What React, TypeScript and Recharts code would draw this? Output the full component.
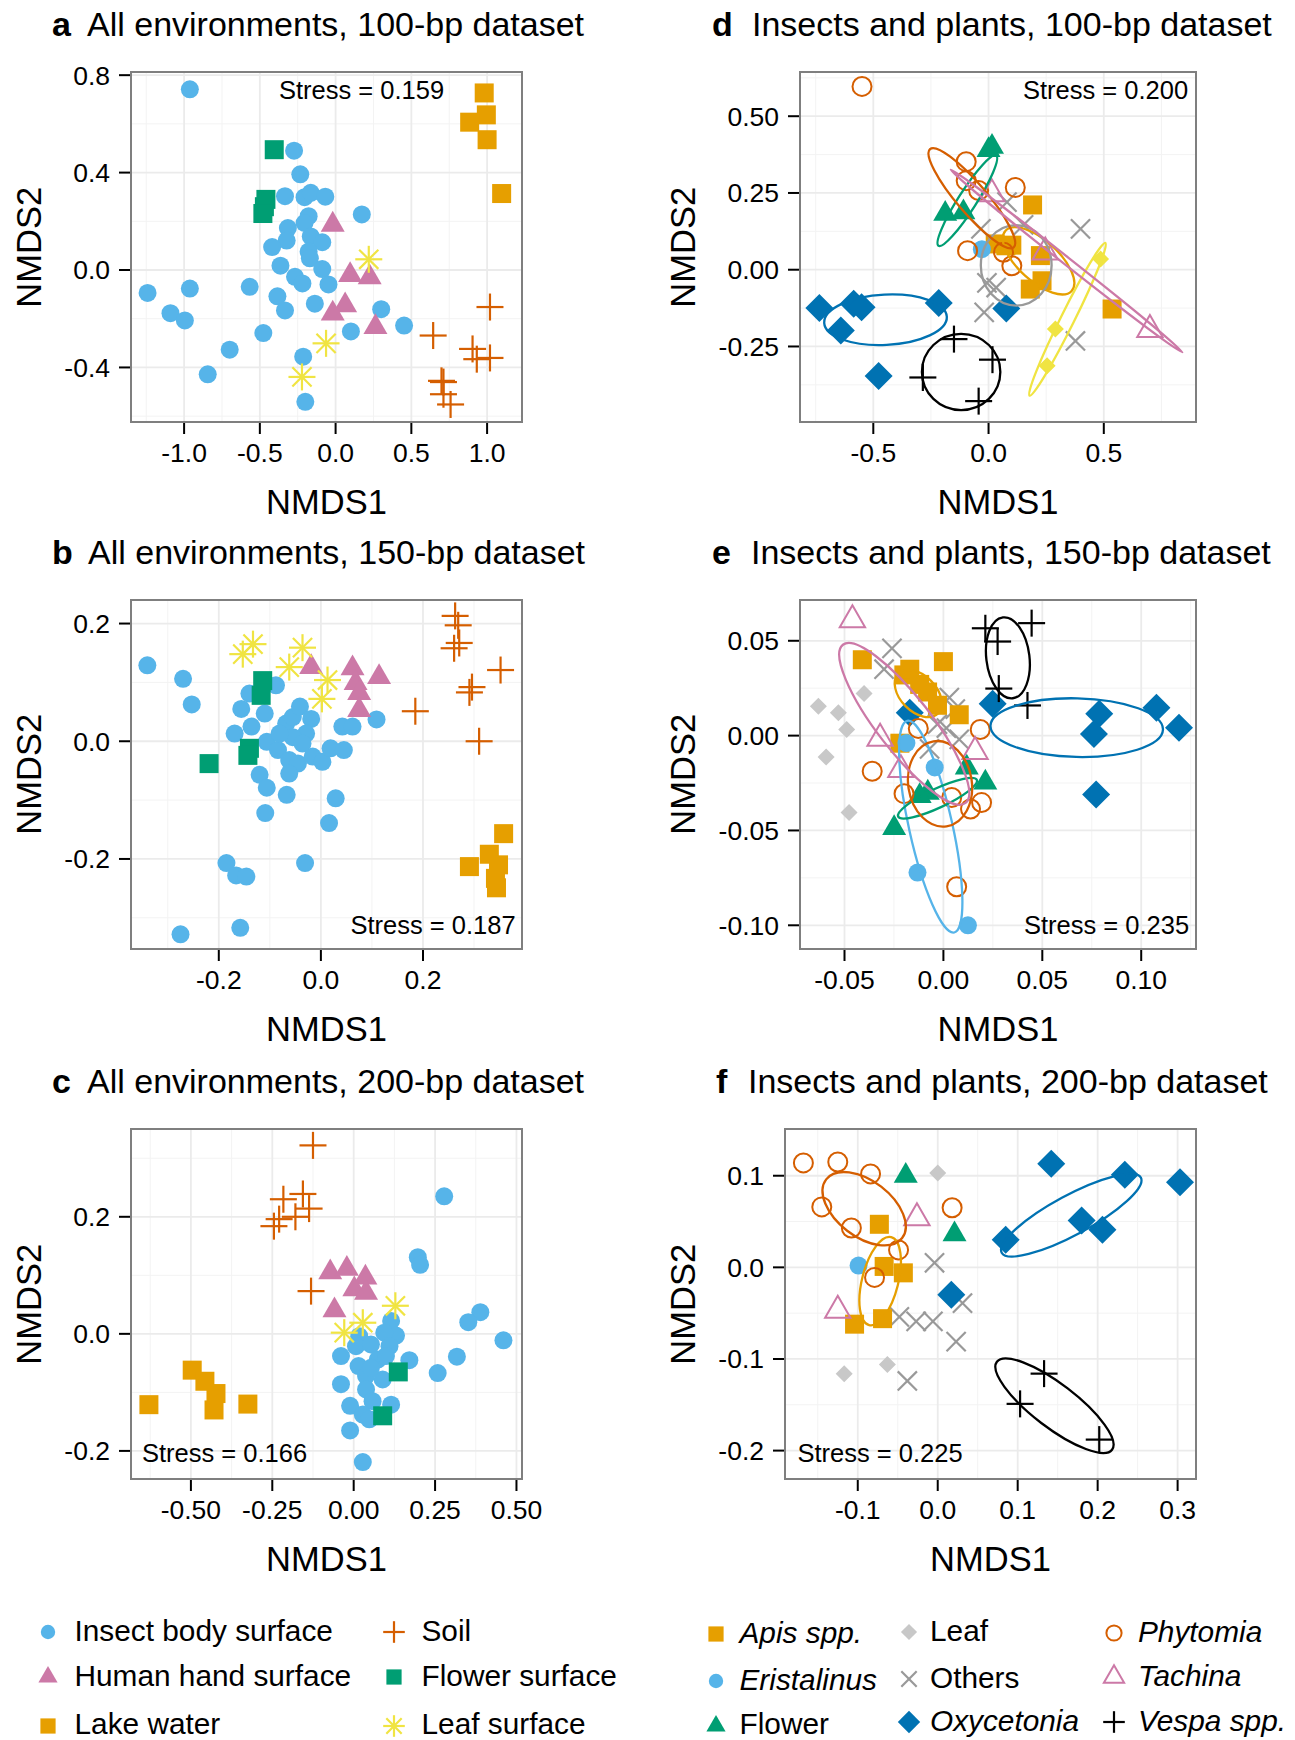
import React from "react";
import { ScatterChart, Scatter, XAxis, YAxis, CartesianGrid } from "recharts";

const FONT = '"Liberation Sans", Arial, Helvetica, sans-serif';

// okabe-ito style palette used by the figure
const SKY = "#56B4E9";
const PINK = "#CC79A7";
const ORANGE = "#E69F00";
const GREEN = "#009E73";
const YELLOW = "#F0E442";
const VERM = "#D55E00";
const BLUE = "#0072B2";
const GREY = "#999999";
const LIGHTGREY = "#C8C8C8";
const BLACK = "#000000";

type Pt = [number, number];
// ellipse: centre x, centre y, semi-major axis (x, y in data units), minor/major ratio
type Ell = [number, number, number, number, number];

// ---------- a: all environments, 100 bp ----------
const aInsect: Pt[] = [[-0.962,0.742],[-0.274,0.49],[-0.233,0.393],[-0.334,0.303],[-0.205,0.299],[-0.164,0.317],[-0.068,0.301],[0.173,0.228],[-0.178,0.221],[-0.205,0.193],[-0.315,0.172],[-0.323,0.121],[-0.419,0.094],[-0.164,0.138],[-0.088,0.114],[-0.178,0.076],[-0.17,0.048],[-0.364,0.018],[-0.088,0.004],[-0.268,-0.028],[-0.219,-0.055],[-0.047,-0.059],[-0.567,-0.069],[-0.962,-0.076],[-1.241,-0.094],[-0.384,-0.108],[-0.334,-0.166],[-0.137,-0.138],[-1.09,-0.177],[-0.995,-0.207],[0.301,-0.161],[0.452,-0.228],[0.101,-0.252],[-0.477,-0.259],[-0.699,-0.327],[-0.214,-0.356],[-0.844,-0.428],[-0.2,-0.541]];
const aHand: Pt[] = [[-0.019,0.186],[0.096,-0.021],[0.225,-0.03],[0.063,-0.145],[-0.019,-0.179],[0.263,-0.234]];
const aLake: Pt[] = [[0.981,0.727],[0.995,0.637],[0.885,0.607],[1.0,0.535],[1.096,0.314]];
const aSoil: Pt[] = [[1.019,-0.152],[0.644,-0.269],[0.904,-0.324],[0.932,-0.366],[1.019,-0.361],[0.699,-0.455],[0.712,-0.46],[0.712,-0.51],[0.759,-0.552]];
const aFlower: Pt[] = [[-0.405,0.494],[-0.46,0.29],[-0.47,0.26],[-0.48,0.232]];
const aLeaf: Pt[] = [[0.219,0.044],[-0.063,-0.301],[-0.222,-0.439]];

// ---------- b: all environments, 150 bp ----------
const bInsect: Pt[] = [[-0.34,0.129],[-0.27,0.106],[-0.253,0.0625],[-0.156,0.055],[-0.14,0.081],[-0.088,0.095],[-0.11,0.047],[-0.169,0.013],[-0.136,0.025],[-0.106,-0.001],[-0.084,-0.015],[-0.068,0.03],[-0.055,0.041],[-0.041,0.059],[-0.019,0.038],[-0.029,0.013],[-0.055,0.007],[-0.081,0.013],[-0.036,-0.004],[-0.062,-0.032],[-0.045,-0.038],[-0.016,-0.026],[0.003,-0.035],[0.019,-0.012],[0.045,-0.015],[0.042,0.025],[0.062,0.025],[0.109,0.037],[-0.12,-0.057],[-0.106,-0.079],[-0.067,-0.091],[-0.109,-0.122],[0.029,-0.097],[0.016,-0.139],[-0.062,-0.055],[-0.185,-0.207],[-0.166,-0.228],[-0.146,-0.23],[-0.031,-0.207],[-0.158,-0.317],[-0.275,-0.328]];
const bHand: Pt[] = [[-0.019,0.126],[0.062,0.124],[0.114,0.109],[0.068,0.099],[0.075,0.082],[0.075,0.053]];
const bLake: Pt[] = [[0.358,-0.157],[0.33,-0.192],[0.291,-0.213],[0.348,-0.21],[0.342,-0.233],[0.344,-0.249]];
const bSoil: Pt[] = [[0.263,0.213],[0.269,0.197],[0.271,0.167],[0.261,0.158],[0.352,0.121],[0.296,0.092],[0.291,0.083],[0.185,0.051],[0.31,0.0]];
const bFlower: Pt[] = [[-0.114,0.103],[-0.117,0.078],[-0.14,-0.012],[-0.143,-0.024],[-0.219,-0.038]];
const bLeaf: Pt[] = [[-0.153,0.148],[-0.133,0.165],[-0.062,0.126],[-0.036,0.159],[0.013,0.104],[0.002,0.072]];

// ---------- c: all environments, 200 bp ----------
const cInsect: Pt[] = [[0.278,0.235],[0.197,0.131],[0.204,0.118],[0.389,0.037],[0.352,0.02],[0.46,-0.011],[0.317,-0.039],[0.258,-0.067],[0.171,-0.045],[0.115,0.022],[0.13,-0.003],[0.094,0.002],[0.017,-0.004],[-0.039,-0.038],[0.007,-0.021],[0.053,-0.018],[0.11,-0.021],[0.015,-0.055],[0.038,-0.072],[0.089,-0.078],[-0.039,-0.086],[0.038,-0.095],[0.058,-0.115],[0.115,-0.121],[-0.011,-0.123],[0.028,-0.138],[0.048,-0.146],[-0.011,-0.165],[0.074,-0.044],[0.099,-0.038],[0.053,-0.058],[0.028,-0.219]];
const cHand: Pt[] = [[-0.072,0.105],[-0.021,0.111],[0.036,0.096],[0.002,0.076],[0.038,0.07],[-0.059,0.04]];
const cLake: Pt[] = [[-0.629,-0.121],[-0.496,-0.062],[-0.457,-0.081],[-0.423,-0.102],[-0.429,-0.13],[-0.325,-0.12]];
const cSoil: Pt[] = [[-0.125,0.322],[-0.156,0.239],[-0.216,0.23],[-0.137,0.214],[-0.179,0.2],[-0.229,0.196],[-0.245,0.184],[-0.131,0.073]];
const cFlower: Pt[] = [[0.137,-0.065],[0.089,-0.14]];
const cLeaf: Pt[] = [[0.128,0.048],[0.028,0.019],[-0.029,0.002]];

// ---------- d: insects and plants, 100 bp ----------
const dApis: Pt[] = [[0.191,0.211],[0.029,0.084],[0.075,0.078],[0.101,0.08],[0.225,0.046],[0.232,-0.036],[0.181,-0.063],[0.536,-0.128]];
const dEris: Pt[] = [[-0.029,0.067]];
const dFlower: Pt[] = [[0.0,0.39],[0.015,0.4],[-0.188,0.182],[-0.109,0.187]];
const dLeaf: Pt[] = [[0.486,0.035],[0.29,-0.193],[0.254,-0.313]];
const dOthers: Pt[] = [[0.08,0.22],[-0.033,0.133],[0.152,0.146],[0.399,0.133],[-0.007,-0.043],[0.033,-0.058],[-0.019,-0.139],[0.377,-0.232]];
const dOxy: Pt[] = [[-0.734,-0.125],[-0.585,-0.111],[-0.551,-0.122],[-0.216,-0.108],[-0.641,-0.198],[-0.477,-0.346],[0.077,-0.126]];
const dPhyto: Pt[] = [[-0.549,0.597],[-0.097,0.352],[-0.097,0.29],[-0.043,0.258],[0.116,0.268],[-0.091,0.062],[0.065,0.057],[0.101,0.013]];
const dTach: Pt[] = [[0.014,0.247],[0.246,0.057],[0.7,-0.195]];
const dVespa: Pt[] = [[-0.15,-0.226],[0.017,-0.293],[-0.285,-0.351],[-0.043,-0.428]];
const dPhytoEll: Ell = [-0.0725, 0.233, 0.1815, -0.16, 0.23];
const dFlowerEll: Ell = [-0.092, 0.225, 0.125, 0.147, 0.17];
const dApisEll: Ell = [0.217, 0.029, 0.1435, -0.098, 0.45];
const dOthersEll: Ell = [0.12, 0.014, 0, 0.131, 0.88];
const dLeafEll: Ell = [0.3425, -0.1615, 0.1645, 0.2485, 0.08];
const dTachEll: Ell = [0.3385, 0.0285, 0.5025, -0.2975, 0.025];
const dOxyEll: Ell = [-0.447, -0.163, 0.266, 0.01, 0.41];
const dVespaEll: Ell = [-0.119, -0.333, 0, 0.124, 1.03];

// ---------- e: insects and plants, 150 bp ----------
const eApis: Pt[] = [[-0.041,0.04],[0.0,0.039],[-0.02,0.032],[-0.017,0.035],[-0.012,0.027],[-0.008,0.023],[-0.003,0.016],[0.008,0.011],[-0.022,-0.004]];
const eEris: Pt[] = [[-0.0187,-0.0039],[-0.0044,-0.0168],[-0.0131,-0.0722],[0.0124,-0.1]];
const eFlower: Pt[] = [[0.0118,-0.0168],[0.0212,-0.0248],[-0.0079,-0.0301],[-0.012,-0.0319],[-0.0249,-0.0487]];
const eLeaf: Pt[] = [[-0.0632,0.0155],[-0.0531,0.012],[-0.0489,0.0032],[-0.0401,0.0222],[-0.0593,-0.0113],[-0.0477,-0.0406]];
const eOthers: Pt[] = [[-0.026,0.046],[-0.03,0.035],[0.003,0.02],[0.0015,0.004],[-0.003,0.006],[0.008,-0.002],[-0.007,-0.007],[0.006,0.014]];
const eOxy: Pt[] = [[-0.017,0.012],[0.0249,0.0168],[0.0788,0.0115],[0.0761,0.0009],[0.1077,0.0147],[0.1191,0.0041],[0.0772,-0.031]];
const ePhyto: Pt[] = [[-0.0127,0.0038],[-0.036,-0.0188],[-0.0199,-0.0306],[0.0042,-0.0326],[0.0186,0.0032],[0.0193,-0.0353],[0.0137,-0.0387],[0.0067,-0.0797]];
const eTach: Pt[] = [[-0.046,0.061],[-0.032,-0.0015],[-0.0215,-0.018],[0.016,-0.0085]];
const eVespa: Pt[] = [[0.0212,0.0566],[0.0274,0.0496],[0.0446,0.0593],[0.028,0.0248],[0.0425,0.0159]];
const eTachEll: Ell = [-0.0198, 0.0062, 0.031, -0.0417, 0.27];
const eApisEll: Ell = [-0.0127, 0.0222, 0.01, -0.0105, 0.64];
const eErisEll: Ell = [-0.0064, -0.048, -0.0119, 0.0558, 0.2];
const eFlowerEll: Ell = [-0.003, -0.033, 0.0199, 0.0097, 0.22];
const ePhytoEll: Ell = [-0.0017, -0.0254, -0.0033, 0.0224, 0.74];
const eOxyEll: Ell = [0.0674, 0.0042, 0.0436, -0.001, 0.34];
const eVespaEll: Ell = [0.0326, 0.041, -0.0025, 0.0213, 0.53];

// ---------- f: insects and plants, 200 bp ----------
const fApis: Pt[] = [[-0.073,0.047],[-0.067,0.001],[-0.043,-0.006],[-0.069,-0.056],[-0.104,-0.062]];
const fEris: Pt[] = [[-0.099,0.002]];
const fFlower: Pt[] = [[-0.04,0.1],[0.021,0.036]];
const fLeaf: Pt[] = [[0.0,0.103],[-0.117,-0.116],[-0.063,-0.106]];
const fOthers: Pt[] = [[-0.004,0.005],[0.031,-0.039],[-0.048,-0.054],[-0.027,-0.059],[-0.006,-0.059],[0.023,-0.081],[-0.038,-0.124]];
const fOxy: Pt[] = [[0.017,-0.03],[0.085,0.03],[0.142,0.113],[0.234,0.101],[0.18,0.051],[0.206,0.041],[0.303,0.093]];
const fPhyto: Pt[] = [[-0.168,0.114],[-0.125,0.115],[-0.084,0.102],[-0.145,0.066],[-0.108,0.043],[0.018,0.065],[-0.049,0.019],[-0.079,-0.011]];
const fTach: Pt[] = [[-0.026,0.054],[-0.125,-0.047]];
const fVespa: Pt[] = [[0.133,-0.116],[0.103,-0.149],[0.202,-0.188]];
const fPhytoEll: Ell = [-0.092, 0.064, 0.0475, -0.032, 0.58];
const fApisEll: Ell = [-0.072, -0.015, 0.0138, 0.048, 0.4];
const fOxyEll: Ell = [0.167, 0.057, 0.087, 0.041, 0.25];
const fVespaEll: Ell = [0.146, -0.151, 0.072, -0.048, 0.3];

// ---------- axes ----------
const aXTicks = [-1, -0.5, 0, 0.5, 1];
const aXLabels = ["-1.0", "-0.5", "0.0", "0.5", "1.0"];
const aYTicks = [-0.4, 0, 0.4, 0.8];
const aYLabels = ["-0.4", "0.0", "0.4", "0.8"];
const bXTicks = [-0.2, 0, 0.2];
const bXLabels = ["-0.2", "0.0", "0.2"];
const bYTicks = [-0.2, 0, 0.2];
const bYLabels = ["-0.2", "0.0", "0.2"];
const cXTicks = [-0.5, -0.25, 0, 0.25, 0.5];
const cXLabels = ["-0.50", "-0.25", "0.00", "0.25", "0.50"];
const cYTicks = [-0.2, 0, 0.2];
const cYLabels = ["-0.2", "0.0", "0.2"];
const dXTicks = [-0.5, 0, 0.5];
const dXLabels = ["-0.5", "0.0", "0.5"];
const dYTicks = [-0.25, 0, 0.25, 0.5];
const dYLabels = ["-0.25", "0.00", "0.25", "0.50"];
const eXTicks = [-0.05, 0, 0.05, 0.1];
const eXLabels = ["-0.05", "0.00", "0.05", "0.10"];
const eYTicks = [-0.1, -0.05, 0, 0.05];
const eYLabels = ["-0.10", "-0.05", "0.00", "0.05"];
const fXTicks = [-0.1, 0, 0.1, 0.2, 0.3];
const fXLabels = ["-0.1", "0.0", "0.1", "0.2", "0.3"];
const fYTicks = [-0.2, -0.1, 0, 0.1];
const fYLabels = ["-0.2", "-0.1", "0.0", "0.1"];

type MarkKind = "circle" | "square" | "triangle" | "plus" | "asterisk" | "diamond" | "smallDiamond" | "openCircle" | "openTriangle" | "cross";

function Mark({ kind, cx, cy, color, s = 1 }: { kind: MarkKind; cx: number; cy: number; color: string; s?: number }) {
  const sw = 2.2;
  switch (kind) {
    case "circle":
      return <circle cx={cx} cy={cy} r={9 * s} fill={color} />;
    case "square": {
      const h = 9.5 * s;
      return <rect x={cx - h} y={cy - h} width={2 * h} height={2 * h} fill={color} />;
    }
    case "triangle": {
      const k = 8.9 * s;
      return <polygon points={`${cx},${cy - 1.555 * k} ${cx + 1.347 * k},${cy + 0.778 * k} ${cx - 1.347 * k},${cy + 0.778 * k}`} fill={color} />;
    }
    case "openTriangle": {
      const k = 9.4 * s;
      return <polygon points={`${cx},${cy - 1.555 * k} ${cx + 1.347 * k},${cy + 0.778 * k} ${cx - 1.347 * k},${cy + 0.778 * k}`} fill="none" stroke={color} strokeWidth={2} />;
    }
    case "diamond": {
      const h = 14 * s;
      return <polygon points={`${cx},${cy - h} ${cx + h},${cy} ${cx},${cy + h} ${cx - h},${cy}`} fill={color} />;
    }
    case "smallDiamond": {
      const h = 8.5 * s;
      return <polygon points={`${cx},${cy - h} ${cx + h},${cy} ${cx},${cy + h} ${cx - h},${cy}`} fill={color} />;
    }
    case "openCircle":
      return <circle cx={cx} cy={cy} r={9.5 * s} fill="none" stroke={color} strokeWidth={2} />;
    case "plus": {
      const h = 13.5 * s;
      return (
        <g stroke={color} strokeWidth={sw}>
          <line x1={cx - h} y1={cy} x2={cx + h} y2={cy} />
          <line x1={cx} y1={cy - h} x2={cx} y2={cy + h} />
        </g>
      );
    }
    case "cross": {
      const h = 9.6 * s;
      return (
        <g stroke={color} strokeWidth={sw}>
          <line x1={cx - h} y1={cy - h} x2={cx + h} y2={cy + h} />
          <line x1={cx - h} y1={cy + h} x2={cx + h} y2={cy - h} />
        </g>
      );
    }
    case "asterisk": {
      const h = 13.5 * s;
      const d = 9.6 * s;
      return (
        <g stroke={color} strokeWidth={sw}>
          <line x1={cx - h} y1={cy} x2={cx + h} y2={cy} />
          <line x1={cx} y1={cy - h} x2={cx} y2={cy + h} />
          <line x1={cx - d} y1={cy - d} x2={cx + d} y2={cy + d} />
          <line x1={cx - d} y1={cy + d} x2={cx + d} y2={cy - d} />
        </g>
      );
    }
  }
  return null;
}

type Series = { pts: Pt[]; mark: MarkKind; color: string };
type EllSeries = { e: Ell; color: string };
type Box = { x: number; y: number; w: number; h: number };

type PanelProps = {
  box: Box;
  xDomain: [number, number];
  yDomain: [number, number];
  xTicks: number[];
  xLabels: string[];
  yTicks: number[];
  yLabels: string[];
  xMinor: number[];
  yMinor: number[];
  series: Series[];
  ellipses: EllSeries[];
};

const fmt = (ticks: number[], labels: string[]) => (v: number) => {
  const i = ticks.findIndex((t) => Math.abs(t - v) < 1e-9);
  return i >= 0 ? labels[i] : String(v);
};

function Panel({ box, xDomain, yDomain, xTicks, xLabels, yTicks, yLabels, xMinor, yMinor, series, ellipses }: PanelProps) {
  const YW = 130, MT = 30, MR = 45, XH = 70;
  const kx = box.w / (xDomain[1] - xDomain[0]);
  const ky = box.h / (yDomain[1] - yDomain[0]);
  const ellData = ellipses.map(({ e, color }) => ({ x: e[0], y: e[1], ax: e[2], ay: e[3], r: e[4], color }));
  const tickStyle = { fill: "#000", fontSize: 26.5, fontFamily: FONT };
  return (
    <div style={{ position: "absolute", left: box.x - YW, top: box.y - MT }}>
      <ScatterChart width={YW + box.w + MR} height={MT + box.h + XH} margin={{ top: MT, right: MR, bottom: 0, left: 0 }}>
        <CartesianGrid horizontalValues={yMinor} verticalValues={xMinor} stroke="#F3F3F3" strokeWidth={1} />
        <CartesianGrid horizontalValues={yTicks} verticalValues={xTicks} stroke="#EBEBEB" strokeWidth={1.8} />
        <XAxis
          type="number"
          dataKey="x"
          domain={xDomain}
          allowDataOverflow
          ticks={xTicks}
          interval={0}
          tickFormatter={fmt(xTicks, xLabels)}
          axisLine={false}
          tickSize={12}
          tickMargin={9}
          tickLine={{ stroke: "#000", strokeWidth: 2 }}
          tick={tickStyle}
          height={XH}
        />
        <YAxis
          type="number"
          dataKey="y"
          domain={yDomain}
          allowDataOverflow
          ticks={yTicks}
          interval={0}
          tickFormatter={fmt(yTicks, yLabels)}
          axisLine={false}
          tickSize={12}
          tickMargin={9}
          tickLine={{ stroke: "#000", strokeWidth: 2 }}
          tick={tickStyle}
          width={YW}
        />
        {series.map((s, i) => (
          <Scatter
            key={i}
            data={s.pts.map(([x, y]) => ({ x, y }))}
            isAnimationActive={false}
            shape={(p: any) => <Mark kind={s.mark} cx={p.cx} cy={p.cy} color={s.color} />}
          />
        ))}
        <Scatter
          data={ellData}
          isAnimationActive={false}
          shape={(p: any) => {
            const d = p.payload;
            const px = d.ax * kx;
            const py = -d.ay * ky;
            const a = Math.hypot(px, py);
            const ang = (Math.atan2(py, px) * 180) / Math.PI;
            return (
              <ellipse
                cx={p.cx}
                cy={p.cy}
                rx={a}
                ry={a * d.r}
                transform={`rotate(${ang} ${p.cx} ${p.cy})`}
                fill="none"
                stroke={d.color}
                strokeWidth={2.3}
              />
            );
          }}
        />
      </ScatterChart>
      <div
        style={{
          position: "absolute",
          left: YW - 1.25,
          top: MT - 1.25,
          width: box.w + 2.5,
          height: box.h + 2.5,
          border: "2.5px solid #7F7F7F",
          boxSizing: "border-box",
          pointerEvents: "none",
        }}
      />
    </div>
  );
}

// text placed by its baseline
function Txt({ x, y, size, children, center, bold, italic }: { x: number; y: number; size: number; children: React.ReactNode; center?: boolean; bold?: boolean; italic?: boolean }) {
  return (
    <div
      style={{
        position: "absolute",
        left: center ? x - 300 : x,
        width: center ? 600 : undefined,
        textAlign: center ? "center" : "left",
        top: y - 0.8465 * size,
        fontSize: size,
        lineHeight: `${size}px`,
        fontFamily: FONT,
        fontWeight: bold ? "bold" : "normal",
        fontStyle: italic ? "italic" : "normal",
        whiteSpace: "nowrap",
        color: "#000",
      }}
    >
      {children}
    </div>
  );
}

function VTxt({ x, cy, size, children }: { x: number; cy: number; size: number; children: React.ReactNode }) {
  // x = baseline position of text rotated to read upwards
  const cx = x - 0.3465 * size;
  return (
    <div
      style={{
        position: "absolute",
        left: cx - 150,
        top: cy - size / 2,
        width: 300,
        height: size,
        lineHeight: `${size}px`,
        textAlign: "center",
        fontSize: size,
        fontFamily: FONT,
        transform: "rotate(-90deg)",
        whiteSpace: "nowrap",
        color: "#000",
      }}
    >
      {children}
    </div>
  );
}

function LegendItem({ sx, tx, y, mark, color, label, italic, s = 0.8 }: { sx: number; tx: number; y: number; mark: MarkKind; color: string; label: string; italic?: boolean; s?: number }) {
  return (
    <>
      <svg style={{ position: "absolute", left: sx - 15, top: y - 9 - 15 }} width={30} height={30}>
        <Mark kind={mark} cx={15} cy={15} color={color} s={s} />
      </svg>
      <Txt x={tx} y={y} size={29.8} italic={italic}>
        {label}
      </Txt>
    </>
  );
}

const envSeries = (ins: Pt[], hand: Pt[], lake: Pt[], soil: Pt[], flower: Pt[], leaf: Pt[]): Series[] => [
  { pts: ins, mark: "circle", color: SKY },
  { pts: lake, mark: "square", color: ORANGE },
  { pts: soil, mark: "plus", color: VERM },
  { pts: flower, mark: "square", color: GREEN },
  { pts: hand, mark: "triangle", color: PINK },
  { pts: leaf, mark: "asterisk", color: YELLOW },
];

const boxA: Box = { x: 131, y: 72, w: 391, h: 350 };
const boxB: Box = { x: 131, y: 600, w: 391, h: 349 };
const boxC: Box = { x: 131, y: 1129, w: 391, h: 350 };
const boxD: Box = { x: 800, y: 72, w: 396, h: 350 };
const boxE: Box = { x: 800, y: 600, w: 396, h: 349 };
const boxF: Box = { x: 785, y: 1129, w: 411, h: 350 };

export default function App() {
  const titles = [
    { l: "a", t: "All environments, 100-bp dataset", lx: 52, tx: 87, y: 35.5 },
    { l: "b", t: "All environments, 150-bp dataset", lx: 52, tx: 88, y: 563.7 },
    { l: "c", t: "All environments, 200-bp dataset", lx: 52, tx: 87, y: 1093 },
    { l: "d", t: "Insects and plants, 100-bp dataset", lx: 712, tx: 752, y: 35.5 },
    { l: "e", t: "Insects and plants, 150-bp dataset", lx: 712, tx: 751, y: 563.7 },
    { l: "f", t: "Insects and plants, 200-bp dataset", lx: 716, tx: 748, y: 1093 },
  ];
  const stress = [
    { t: "Stress = 0.159", x: 279, y: 100 },
    { t: "Stress = 0.187", x: 350.5, y: 934.4 },
    { t: "Stress = 0.166", x: 142, y: 1462.7 },
    { t: "Stress = 0.200", x: 1023, y: 100 },
    { t: "Stress = 0.235", x: 1024, y: 934.4 },
    { t: "Stress = 0.225", x: 797.5, y: 1462.7 },
  ];
  const boxes = [boxA, boxB, boxC, boxD, boxE, boxF];
  return (
    <div style={{ position: "absolute", left: 0, top: 0, width: 1295, height: 1740, background: "#fff", overflow: "hidden" }}>
      <Panel
        box={boxA}
        xDomain={[-1.3505, 1.2304]}
        yDomain={[-0.624, 0.813]}
        xTicks={aXTicks}
        xLabels={aXLabels}
        yTicks={aYTicks}
        yLabels={aYLabels}
        xMinor={[-1.25, -0.75, -0.25, 0.25, 0.75]}
        yMinor={[-0.6, -0.2, 0.2, 0.6]}
        series={envSeries(aInsect, aHand, aLake, aSoil, aFlower, aLeaf)}
        ellipses={[]}
      />
      <Panel
        box={boxB}
        xDomain={[-0.372, 0.394]}
        yDomain={[-0.353, 0.24]}
        xTicks={bXTicks}
        xLabels={bXLabels}
        yTicks={bYTicks}
        yLabels={bYLabels}
        xMinor={[-0.3, -0.1, 0.1, 0.3]}
        yMinor={[-0.3, -0.1, 0.1]}
        series={envSeries(bInsect, bHand, bLake, bSoil, bFlower, bLeaf)}
        ellipses={[]}
      />
      <Panel
        box={boxC}
        xDomain={[-0.684, 0.517]}
        yDomain={[-0.248, 0.35]}
        xTicks={cXTicks}
        xLabels={cXLabels}
        yTicks={cYTicks}
        yLabels={cYLabels}
        xMinor={[-0.625, -0.375, -0.125, 0.125, 0.375]}
        yMinor={[-0.1, 0.1, 0.3]}
        series={envSeries(cInsect, cHand, cLake, cSoil, cFlower, cLeaf)}
        ellipses={[]}
      />
      <Panel
        box={boxD}
        xDomain={[-0.818, 0.9]}
        yDomain={[-0.496, 0.644]}
        xTicks={dXTicks}
        xLabels={dXLabels}
        yTicks={dYTicks}
        yLabels={dYLabels}
        xMinor={[-0.75, -0.25, 0.25, 0.75]}
        yMinor={[-0.375, -0.125, 0.125, 0.375, 0.625]}
        series={[
          { pts: dApis, mark: "square", color: ORANGE },
          { pts: dEris, mark: "circle", color: SKY },
          { pts: dFlower, mark: "triangle", color: GREEN },
          { pts: dLeaf, mark: "smallDiamond", color: YELLOW },
          { pts: dOthers, mark: "cross", color: GREY },
          { pts: dOxy, mark: "diamond", color: BLUE },
          { pts: dPhyto, mark: "openCircle", color: VERM },
          { pts: dTach, mark: "openTriangle", color: PINK },
          { pts: dVespa, mark: "plus", color: BLACK },
        ]}
        ellipses={[
          { e: dApisEll, color: ORANGE },
          { e: dFlowerEll, color: GREEN },
          { e: dLeafEll, color: YELLOW },
          { e: dOthersEll, color: GREY },
          { e: dOxyEll, color: BLUE },
          { e: dPhytoEll, color: VERM },
          { e: dTachEll, color: PINK },
          { e: dVespaEll, color: BLACK },
        ]}
      />
      <Panel
        box={boxE}
        xDomain={[-0.0725, 0.1277]}
        yDomain={[-0.1125, 0.0715]}
        xTicks={eXTicks}
        xLabels={eXLabels}
        yTicks={eYTicks}
        yLabels={eYLabels}
        xMinor={[-0.025, 0.025, 0.075, 0.125]}
        yMinor={[-0.075, -0.025, 0.025]}
        series={[
          { pts: eLeaf, mark: "smallDiamond", color: LIGHTGREY },
          { pts: eOthers, mark: "cross", color: GREY },
          { pts: eApis, mark: "square", color: ORANGE },
          { pts: eEris, mark: "circle", color: SKY },
          { pts: eFlower, mark: "triangle", color: GREEN },
          { pts: eOxy, mark: "diamond", color: BLUE },
          { pts: ePhyto, mark: "openCircle", color: VERM },
          { pts: eTach, mark: "openTriangle", color: PINK },
          { pts: eVespa, mark: "plus", color: BLACK },
        ]}
        ellipses={[
          { e: eApisEll, color: ORANGE },
          { e: eErisEll, color: SKY },
          { e: eFlowerEll, color: GREEN },
          { e: eOxyEll, color: BLUE },
          { e: ePhytoEll, color: VERM },
          { e: eTachEll, color: PINK },
          { e: eVespaEll, color: BLACK },
        ]}
      />
      <Panel
        box={boxF}
        xDomain={[-0.191, 0.323]}
        yDomain={[-0.231, 0.151]}
        xTicks={fXTicks}
        xLabels={fXLabels}
        yTicks={fYTicks}
        yLabels={fYLabels}
        xMinor={[-0.15, -0.05, 0.05, 0.15, 0.25]}
        yMinor={[-0.15, -0.05, 0.05]}
        series={[
          { pts: fLeaf, mark: "smallDiamond", color: LIGHTGREY },
          { pts: fOthers, mark: "cross", color: GREY },
          { pts: fApis, mark: "square", color: ORANGE },
          { pts: fEris, mark: "circle", color: SKY },
          { pts: fFlower, mark: "triangle", color: GREEN },
          { pts: fOxy, mark: "diamond", color: BLUE },
          { pts: fPhyto, mark: "openCircle", color: VERM },
          { pts: fTach, mark: "openTriangle", color: PINK },
          { pts: fVespa, mark: "plus", color: BLACK },
        ]}
        ellipses={[
          { e: fApisEll, color: ORANGE },
          { e: fOxyEll, color: BLUE },
          { e: fPhytoEll, color: VERM },
          { e: fVespaEll, color: BLACK },
        ]}
      />

      {titles.map((t) => (
        <React.Fragment key={t.l}>
          <Txt x={t.lx} y={t.y} size={34} bold>
            {t.l}
          </Txt>
          <Txt x={t.tx} y={t.y} size={34}>
            {t.t}
          </Txt>
        </React.Fragment>
      ))}
      {stress.map((s) => (
        <Txt key={s.t} x={s.x} y={s.y} size={25.5}>
          {s.t}
        </Txt>
      ))}
      {boxes.map((b, i) => (
        <React.Fragment key={i}>
          <Txt x={b.x + b.w / 2} y={b.y + b.h + 92.5} size={34.5} center>
            NMDS1
          </Txt>
          <VTxt x={b.x < 400 ? 41 : 695} cy={b.y + b.h / 2} size={34.5}>
            NMDS2
          </VTxt>
        </React.Fragment>
      ))}

      {/* environment legend */}
      <LegendItem sx={48} tx={74.5} y={1641} mark="circle" color={SKY} label="Insect body surface" />
      <LegendItem sx={48} tx={74.5} y={1686} mark="triangle" color={PINK} label="Human hand surface" />
      <LegendItem sx={48} tx={74.5} y={1734.5} mark="square" color={ORANGE} label="Lake water" />
      <LegendItem sx={394} tx={421.5} y={1641} mark="plus" color={VERM} label="Soil" />
      <LegendItem sx={394} tx={421.5} y={1686} mark="square" color={GREEN} label="Flower surface" />
      <LegendItem sx={394} tx={421.5} y={1734.5} mark="asterisk" color={YELLOW} label="Leaf surface" />

      {/* host legend */}
      <LegendItem sx={715.5} tx={739.5} y={1643} mark="square" color={ORANGE} label="Apis spp." italic />
      <LegendItem sx={715.5} tx={739.5} y={1690} mark="circle" color={SKY} label="Eristalinus" italic />
      <LegendItem sx={715.5} tx={739.5} y={1734.5} mark="triangle" color={GREEN} label="Flower" />
      <LegendItem sx={909} tx={930} y={1641} mark="smallDiamond" color={LIGHTGREY} label="Leaf" s={0.95} />
      <LegendItem sx={909} tx={930} y={1688} mark="cross" color={GREY} label="Others" />
      <LegendItem sx={909} tx={930} y={1731} mark="diamond" color={BLUE} label="Oxycetonia" italic />
      <LegendItem sx={1114} tx={1138} y={1642} mark="openCircle" color={VERM} label="Phytomia" italic />
      <LegendItem sx={1114} tx={1138} y={1686} mark="openTriangle" color={PINK} label="Tachina" italic />
      <LegendItem sx={1114} tx={1138} y={1731} mark="plus" color={BLACK} label="Vespa spp." italic />
    </div>
  );
}
